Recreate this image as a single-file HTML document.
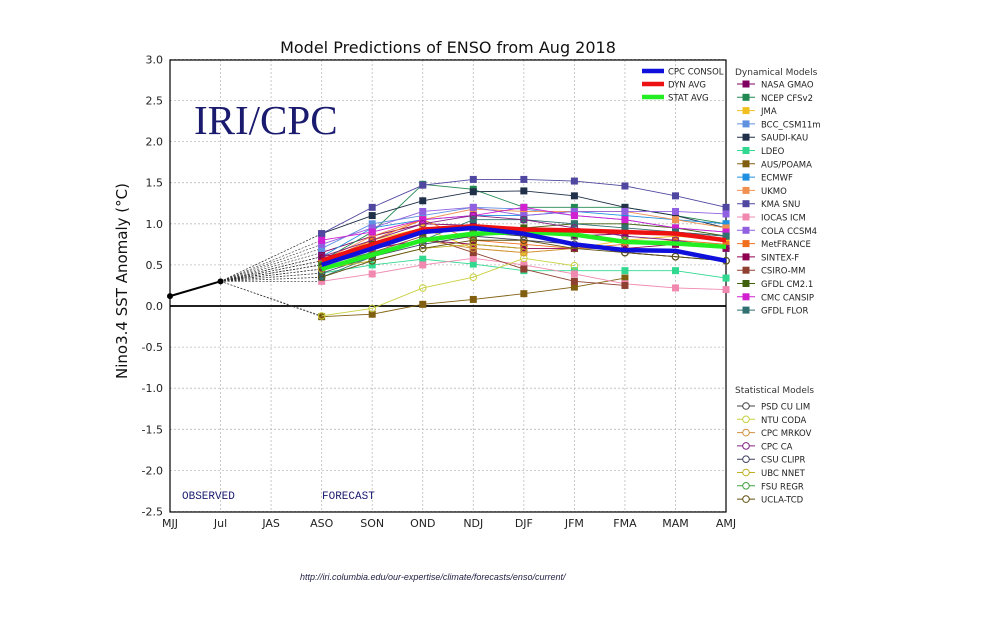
<!DOCTYPE html>
<html><head><meta charset="utf-8"><style>
body{margin:0;background:#fff;width:1008px;height:612px;overflow:hidden}
svg{font-family:"DejaVu Sans","Liberation Sans",sans-serif}
</style></head><body>
<svg id="c" width="1008" height="612"></svg>
<script>
const seasons=["MJJ","Jul","JAS","ASO","SON","OND","NDJ","DJF","JFM","FMA","MAM","AMJ"];
const yTicks=[3.0,2.5,2.0,1.5,1.0,0.5,0.0,-0.5,-1.0,-1.5,-2.0,-2.5];
const observed=[0.12,0.30];
const cpcConsol=[0.50,0.70,0.90,0.95,0.88,0.75,0.68,0.67,0.55];
const dynAvg=[0.55,0.75,0.93,0.97,0.93,0.92,0.90,0.88,0.80];
const statAvg=[0.45,0.62,0.80,0.88,0.90,0.87,0.78,0.76,0.72];
const dynNames=["NASA GMAO","NCEP CFSv2","JMA","BCC_CSM11m","SAUDI-KAU","LDEO","AUS/POAMA","ECMWF","UKMO","KMA SNU","IOCAS ICM","COLA CCSM4","MetFRANCE","SINTEX-F","CSIRO-MM","GFDL CM2.1","CMC CANSIP","GFDL FLOR"];
const dynColors=["#800060","#208850","#f0c020","#6090e0","#203048","#30d890","#806010","#2090e0","#f09050","#5048a0","#f088b0","#9060e0","#f07020","#900050","#904030","#406010","#d020d0","#307070"];
const dynVals=[
[0.65,0.85,1.00,0.98,0.90,0.85,0.88,0.90,0.85],
[0.55,0.90,1.48,1.42,1.20,1.20,1.20,1.10,1.00],
[0.50,0.80,0.95,0.70,0.65,0.70,0.80,0.85,0.80],
[0.70,1.00,1.10,1.20,1.18,1.10,1.05,0.95,0.90],
[0.88,1.10,1.28,1.39,1.40,1.34,1.20,1.10,0.95],
[0.40,0.50,0.57,0.51,0.43,0.43,0.43,0.43,0.34],
[-0.13,-0.10,0.02,0.08,0.15,0.23,0.34,null,null],
[0.60,0.95,1.05,1.10,1.10,1.15,1.10,1.05,1.00],
[0.55,0.85,1.05,1.18,1.15,1.15,1.15,1.05,0.95],
[0.88,1.20,1.47,1.54,1.54,1.52,1.46,1.34,1.20],
[0.30,0.39,0.50,0.58,0.50,0.39,0.27,0.22,0.20],
[0.75,0.95,1.15,1.20,1.10,1.15,1.15,1.15,1.12],
[0.55,0.80,1.05,0.80,0.75,0.70,0.75,0.80,0.75],
[0.60,0.70,0.80,0.75,0.70,0.70,0.70,0.75,0.70],
[0.45,0.65,0.85,0.65,0.45,0.30,0.25,null,null],
[0.50,0.75,0.90,0.95,0.95,1.00,1.00,0.95,0.85],
[0.80,0.90,1.05,1.10,1.20,1.10,1.05,0.95,0.90],
[0.35,0.60,0.80,1.05,1.05,1.00,0.95,0.90,0.85]];
const statNames=["PSD CU LIM","NTU CODA","CPC MRKOV","CPC CA","CSU CLIPR","UBC NNET","FSU REGR","UCLA-TCD"];
const statColors=["#404040","#c8d040","#d09040","#802080","#404060","#c0b020","#40a040","#605010"];
const statVals=[
[0.45,0.60,0.80,0.90,0.85,0.75,0.65,0.60,0.55],
[-0.12,-0.03,0.22,0.35,0.58,0.49,null,null,null],
[0.50,0.65,0.80,0.70,0.65,0.70,0.70,null,null],
[0.60,0.80,1.00,1.10,1.05,0.95,0.85,0.80,0.70],
[0.40,0.60,0.75,0.85,0.80,0.75,0.65,0.60,0.55],
[0.45,0.55,0.70,0.75,0.70,null,null,null,null],
[0.50,0.65,0.80,0.85,0.90,0.85,0.80,null,null],
[0.35,0.55,0.70,0.80,0.80,0.70,0.65,0.60,0.55]];

const svg=document.getElementById('c');const NS="http://www.w3.org/2000/svg";
function mk(t,a,p){const e=document.createElementNS(NS,t);for(const k in a)e.setAttribute(k,a[k]);(p||svg).appendChild(e);return e;}
const X0=170,DX=50.55,Y0=306,DY=82.2;
const xs=i=>X0+i*DX, ys=v=>Y0-v*DY;
for(let i=0;i<seasons.length;i++){const g=mk('line',{x1:xs(i),x2:xs(i),y1:60,y2:512,stroke:'#bbb','stroke-dasharray':'2,2','stroke-width':0.8});


const t=mk('text',{x:xs(i),y:527,'font-size':11,'text-anchor':'middle',fill:'#222'});t.textContent=seasons[i];

}
for(const v of yTicks){const g=mk('line',{x1:170,x2:726,y1:ys(v),y2:ys(v),stroke:'#bbb','stroke-dasharray':'2,2','stroke-width':0.8});


const t=mk('text',{x:163,y:ys(v)+4,'font-size':11,'text-anchor':'end',fill:'#222'});t.textContent=v.toFixed(1);

}
const fr=mk('rect',{x:170,y:60,width:556,height:452,fill:'none',stroke:'#000','stroke-width':1.2});


const zl=mk('line',{x1:170,x2:726,y1:ys(0),y2:ys(0),stroke:'#000','stroke-width':1.8});


function series(vals,color,name,circle){
  const g=mk('g',{});
  
  
  mk('line',{x1:xs(1),y1:ys(observed[1]),x2:xs(3),y2:ys(vals[0]),stroke:'#333','stroke-width':0.6,'stroke-dasharray':'2,1.5'},g);
  let d='';vals.forEach((v,i)=>{if(v!==null)d+=(d?'L':'M')+xs(i+3)+','+ys(v);});
  mk('path',{d:d,fill:'none',stroke:color,'stroke-width':0.9},g);
  vals.forEach((v,i)=>{if(v===null)return;
    if(circle)mk('circle',{cx:xs(i+3),cy:ys(v),r:3.3,fill:'none',stroke:color,'stroke-width':1},g);
    else mk('rect',{x:xs(i+3)-3.5,y:ys(v)-3.5,width:7,height:7,fill:color},g);});
}
dynVals.forEach((v,i)=>series(v,dynColors[i],dynNames[i],false));
statVals.forEach((v,i)=>series(v,statColors[i],statNames[i],true));
function avg(vals,color,name){let d='';vals.forEach((v,i)=>{d+=(d?'L':'M')+xs(i+3)+','+ys(v);});
 const p=mk('path',{d:d,fill:'none',stroke:color,'stroke-width':4.5});
 
 }
avg(statAvg,'#22ee22','stat-avg-line');avg(dynAvg,'#ee1111','dyn-avg-line');avg(cpcConsol,'#1010dd','cpc-consol-line');
const ob=mk('path',{d:'M'+xs(0)+','+ys(observed[0])+'L'+xs(1)+','+ys(observed[1]),stroke:'#000','stroke-width':2,fill:'none'});


observed.forEach((v,i)=>{const c=mk('circle',{cx:xs(i),cy:ys(v),r:3,fill:'#000'});

});
const avgL=[["CPC CONSOL","#1010dd"],["DYN AVG","#ee1111"],["STAT AVG","#22ee22"]];
avgL.forEach((a,i)=>{const y=71+i*13;const l=mk('line',{x1:642,x2:664,y1:y,y2:y,stroke:a[1],'stroke-width':4.5});


const t=mk('text',{x:668,y:y+3.5,'font-size':8.5,fill:'#222'});t.textContent=a[0];

});
function legend(names,colors,y0,circle){names.forEach((n,i)=>{const y=y0+i*13.3;
 mk('line',{x1:737,x2:755,y1:y,y2:y,stroke:colors[i],'stroke-width':1});
 if(circle)mk('circle',{cx:746,cy:y,r:3.3,fill:'#fff',stroke:colors[i]});else mk('rect',{x:742.5,y:y-3.5,width:7,height:7,fill:colors[i]});
 const t=mk('text',{x:761,y:y+3.5,'font-size':8.5,fill:'#222'});t.textContent=n;
 
 });}
let h=mk('text',{x:735,y:75,'font-size':9,fill:'#333'});h.textContent="Dynamical Models";


legend(dynNames,dynColors,84,false);
h=mk('text',{x:735,y:393,'font-size':9,fill:'#333'});h.textContent="Statistical Models";


legend(statNames,statColors,406,true);
</script>
<div style="position:absolute;left:170px;top:38px;width:556px;text-align:center;font:16px 'DejaVu Sans','Liberation Sans',sans-serif;color:#111">Model Predictions of ENSO from Aug 2018</div>
<div style="position:absolute;left:-3px;top:272px;width:250px;text-align:center;transform:rotate(-90deg);font:15px 'DejaVu Sans','Liberation Sans',sans-serif;color:#111">Nino3.4 SST Anomaly (°C)</div>
<div style="position:absolute;left:194px;top:96px;font:41px 'Liberation Serif',serif;color:#1a1a6e">IRI/CPC</div>
<div style="position:absolute;left:182px;top:491px;font:11px 'Liberation Mono',monospace;color:#1a1a6e">OBSERVED</div>
<div style="position:absolute;left:322px;top:491px;font:11px 'Liberation Mono',monospace;color:#1a1a6e">FORECAST</div>
<div style="position:absolute;left:300px;top:572px;font:italic 9px 'Liberation Sans',sans-serif;color:#224">http://iri.columbia.edu/our-expertise/climate/forecasts/enso/current/</div>
</body></html>
